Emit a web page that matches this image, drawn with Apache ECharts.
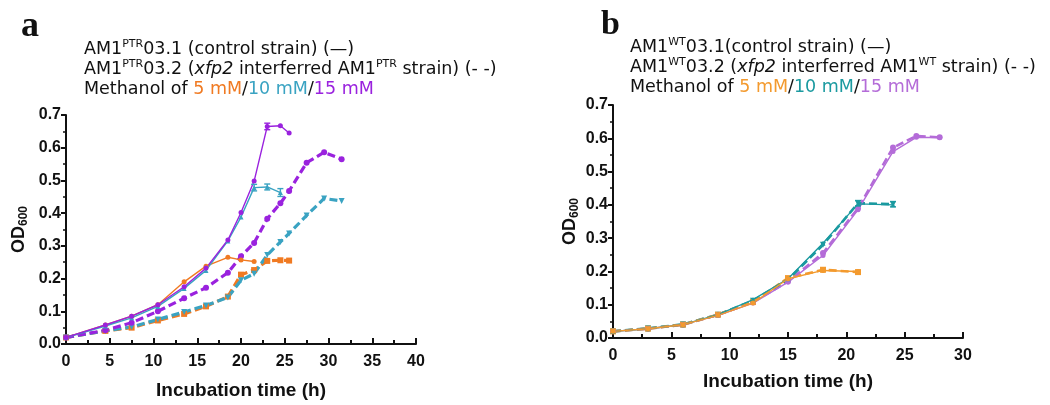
<!DOCTYPE html>
<html><head><meta charset="utf-8">
<script src="https://cdn.jsdelivr.net/npm/echarts@6/dist/echarts.min.js"></script>
<style>html,body{margin:0;padding:0;background:#fff}#c{width:1050px;height:405px}</style>
</head><body><div id="c"></div>
<script>
// ---- Panel a data ----
const timeA = [0, 4.5, 7.5, 10.5, 13.5, 16, 18.5, 20, 21.5, 23, 24.5, 25.5, 27.5, 29.5, 31.5];
const a5Control  = [0.02, 0.058, 0.085, 0.12, 0.19, 0.238, 0.265, 0.257, 0.252];
const a10Control = [0.02, 0.055, 0.08, 0.115, 0.17, 0.225, 0.315, 0.388, 0.478, 0.48, 0.463];
const a15Control = [0.02, 0.058, 0.085, 0.12, 0.175, 0.232, 0.318, 0.402, 0.498, 0.665, 0.667, 0.645];
const a5Interf   = [0.02, 0.04, 0.05, 0.072, 0.092, 0.115, 0.145, 0.212, 0.226, 0.254, 0.256, 0.255];
const a10Interf  = [0.02, 0.04, 0.052, 0.075, 0.098, 0.118, 0.142, 0.195, 0.215, 0.272, 0.312, 0.338, 0.393, 0.445, 0.437];
const a15Interf  = [0.02, 0.042, 0.065, 0.1, 0.14, 0.172, 0.218, 0.268, 0.309, 0.383, 0.43, 0.468, 0.554, 0.586, 0.565];
// error bars (time, mean, sd) — panel a
const errA10Time = [21.5, 23, 24.5];
const errA10Sd   = [0.01, 0.009, 0.012];
const errA15Time = [23];
const errA15Sd   = [0.01];
// ---- Panel b data ----
const timeB = [0, 3, 6, 9, 12, 15, 18, 21, 24, 26, 28];
const b5Control  = [0.02, 0.028, 0.04, 0.068, 0.105, 0.178, 0.203, 0.2];
const b5Interf   = [0.02, 0.028, 0.04, 0.07, 0.108, 0.18, 0.205, 0.198];
const b10Control = [0.02, 0.028, 0.04, 0.07, 0.115, 0.178, 0.285, 0.403, 0.4];
const b10Interf  = [0.02, 0.029, 0.041, 0.07, 0.112, 0.175, 0.28, 0.405, 0.402];
const b15Control = [0.02, 0.028, 0.04, 0.068, 0.105, 0.168, 0.248, 0.385, 0.56, 0.603, 0.602];
const b15Interf  = [0.02, 0.028, 0.04, 0.07, 0.108, 0.17, 0.255, 0.39, 0.572, 0.607, 0.603];
const errB10Time = [21, 24];
const errB10Sd   = [0.008, 0.008];
// ---- ticks ----
const xTicksA = [0, 5, 10, 15, 20, 25, 30, 35, 40];
const xTicksB = [0, 5, 10, 15, 20, 25, 30];
const yTicks = [0, 0.1, 0.2, 0.3, 0.4, 0.5, 0.6, 0.7];

function pairs(t, v) { return v.map((y, i) => [t[i], y]); }
function lookup(t, v, time) { return v[t.indexOf(time)]; }

const FONT = '"Liberation Sans", Arial, sans-serif';
const LFONT = '"DejaVu Sans", "Liberation Sans", sans-serif';
const cA = { o: '#f07a22', c: '#3aa3c2', p: '#9a22de' };
const cB = { o: '#f39a2e', c: '#1b9aa0', p: '#b46cd8' };

function xAxis(idx, ticks, gap) {
  return {
    type: 'value', gridIndex: idx, min: ticks[0], max: ticks[ticks.length - 1], interval: 5,
    name: 'Incubation time (h)', nameLocation: 'middle', nameGap: gap,
    nameTextStyle: { fontFamily: FONT, fontWeight: 'bold', fontSize: 19, color: '#111' },
    axisLine: { onZero: false, lineStyle: { color: '#111', width: 2 } },
    axisTick: { inside: true, length: 6, lineStyle: { width: 2, color: '#111' } },
    minorTick: { show: true, splitNumber: 2, length: 4, lineStyle: { width: 2, color: '#111' } },
    axisLabel: { fontFamily: FONT, fontWeight: 'bold', fontSize: 16, color: '#111', margin: 10 },
    splitLine: { show: false }
  };
}
function yAxis(idx, gap) {
  return {
    type: 'value', gridIndex: idx, min: yTicks[0], max: yTicks[yTicks.length - 1], interval: 0.1,
    name: '{m|OD}{s|600}', nameLocation: 'middle', nameGap: gap, nameRotate: 90,
    nameTextStyle: { rich: {
      m: { fontFamily: FONT, fontWeight: 'bold', fontSize: 18, color: '#111', lineHeight: 22, verticalAlign: 'middle' },
      s: { fontFamily: FONT, fontWeight: 'bold', fontSize: 12, color: '#111', lineHeight: 22, verticalAlign: 'bottom', padding: [6, 0, 0, 0] }
    } },
    axisLine: { show: true, lineStyle: { color: '#111', width: 2 } },
    axisTick: { show: true, length: 5, lineStyle: { width: 2, color: '#111' } },
    minorTick: { show: true, splitNumber: 2, length: 3, lineStyle: { width: 1.5, color: '#111' } },
    axisLabel: { fontFamily: FONT, fontWeight: 'bold', fontSize: 16, color: '#111', margin: 5,
      formatter: v => v.toFixed(1) },
    splitLine: { show: false }
  };
}
function line(idx, t, v, color, dashed, symbol, opts) {
  opts = opts || {};
  return Object.assign({
    type: 'line', xAxisIndex: idx, yAxisIndex: idx, data: pairs(t, v),
    symbol: symbol, symbolSize: dashed ? 6 : 5, showSymbol: true,
    lineStyle: { color: color, width: dashed ? (idx === 0 ? 3.2 : 2.6) : 1.4, type: dashed ? [8, 4] : 'solid' },
    itemStyle: { color: color },
    animation: false, z: dashed ? 3 : 4
  }, opts);
}
function errorBars(idx, times, sds, t, v, color) {
  const data = times.map((tm, i) => { const m = lookup(t, v, tm); return [tm, m - sds[i], m + sds[i]]; });
  return {
    type: 'custom', xAxisIndex: idx, yAxisIndex: idx, data: data, animation: false, z: 5,
    renderItem: (params, api) => {
      const lo = api.coord([api.value(0), api.value(1)]);
      const hi = api.coord([api.value(0), api.value(2)]);
      const w = 3;
      const st = { stroke: color, lineWidth: 1.4 };
      return { type: 'group', children: [
        { type: 'line', shape: { x1: lo[0], y1: lo[1], x2: hi[0], y2: hi[1] }, style: st },
        { type: 'line', shape: { x1: lo[0] - w, y1: lo[1], x2: lo[0] + w, y2: lo[1] }, style: st },
        { type: 'line', shape: { x1: hi[0] - w, y1: hi[1], x2: hi[0] + w, y2: hi[1] }, style: st }
      ] };
    }
  };
}

const tok = (color, extra) => Object.assign({ fontFamily: LFONT, fontSize: 17.5, fontWeight: 'normal', color: color, lineHeight: 20, verticalAlign: 'middle' }, extra || {});
const legendRich = (c) => ({
  n: tok('#111'),
  i: tok('#111', { fontStyle: 'italic' }),
  s: tok('#111', { fontSize: 11, verticalAlign: 'top', padding: [0, 0, 6, 0] }),
  o: tok(c.o),
  c: tok(c.c),
  p: tok(c.p)
});

const option = {
  backgroundColor: '#fff',
  title: [
    { text: 'a', left: 16, top: 4, textStyle: { fontFamily: '"Liberation Serif", "Times New Roman", serif', fontWeight: 'bold', fontSize: 36, color: '#111' } },
    { text: 'b', left: 596, top: 3, textStyle: { fontFamily: '"Liberation Serif", "Times New Roman", serif', fontWeight: 'bold', fontSize: 34, color: '#111' } },
    { left: 84, top: 39, padding: 0,
      text: '{n|AM1}{s|PTR}{n|03.1 (control strain) (\u2014)}\n{n|AM1}{s|PTR}{n|03.2 (}{i|xfp2}{n| interferred AM1}{s|PTR}{n| strain) (- -)}\n{n|Methanol of }{o|5 mM}{n|/}{c|10 mM}{n|/}{p|15 mM}',
      textStyle: { fontWeight: 'normal', rich: legendRich(cA) } },
    { left: 630, top: 37, padding: 0,
      text: '{n|AM1}{s|WT}{n|03.1(control strain) (\u2014)}\n{n|AM1}{s|WT}{n|03.2 (}{i|xfp2}{n| interferred AM1}{s|WT}{n| strain) (- -)}\n{n|Methanol of }{o|5 mM}{n|/}{c|10 mM}{n|/}{p|15 mM}',
      textStyle: { fontWeight: 'normal', rich: legendRich(cB) } }
  ],
  grid: [
    { left: 66, top: 115, width: 350, height: 232 },
    { left: 613, top: 105, width: 350, height: 233 }
  ],
  xAxis: [xAxis(0, xTicksA, 37), xAxis(1, xTicksB, 34)],
  yAxis: [yAxis(0, 36), yAxis(1, 32)],
  series: [
    line(0, timeA, a5Interf, cA.o, true, 'rect'),
    line(0, timeA, a10Interf, cA.c, true, 'triangle', { symbolRotate: 180 }),
    line(0, timeA, a15Interf, cA.p, true, 'circle'),
    line(0, timeA, a5Control, cA.o, false, 'circle'),
    line(0, timeA, a10Control, cA.c, false, 'triangle'),
    line(0, timeA, a15Control, cA.p, false, 'circle'),
    errorBars(0, errA10Time, errA10Sd, timeA, a10Control, cA.c),
    errorBars(0, errA15Time, errA15Sd, timeA, a15Control, cA.p),
    line(1, timeB, b15Interf, cB.p, true, 'circle'),
    line(1, timeB, b15Control, cB.p, false, 'circle'),
    line(1, timeB, b10Interf, cB.c, true, 'triangle', { symbolRotate: 180 }),
    line(1, timeB, b10Control, cB.c, false, 'triangle'),
    errorBars(1, errB10Time, errB10Sd, timeB, b10Interf, cB.c),
    line(1, timeB, b5Control, cB.o, false, 'circle'),
    line(1, timeB, b5Interf, cB.o, true, 'rect')
  ]
};
const chart = echarts.init(document.getElementById('c'), null, { renderer: 'canvas' });
chart.setOption(option);
</script>
</body></html>
